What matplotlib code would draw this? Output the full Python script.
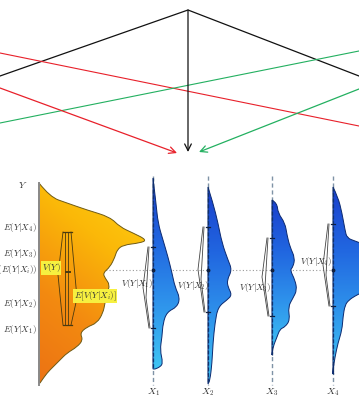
import numpy as np
import matplotlib
matplotlib.use("Agg")
import matplotlib.pyplot as plt
from matplotlib.path import Path
from matplotlib.patches import PathPatch
from matplotlib.colors import LinearSegmentedColormap

plt.rcParams['mathtext.fontset'] = 'cm'

# ---- marginal distribution of Y (drawn against the Y axis) ----
y_prof_y = [183, 197, 203, 210, 217, 227, 233, 240, 243, 245, 250, 257, 267, 273,
            278, 285, 293, 303, 313, 323, 327, 333, 340, 347, 353, 360, 367, 373, 383]
y_prof_w = [0, 11, 28, 48, 71, 81, 94, 108, 101, 84, 78, 76, 71, 64,
            66, 71, 68, 66, 64, 58, 48, 41, 44, 38, 28, 21, 14, 8, 1]

# ---- conditional distributions Y | X_i ----
x_pos = [153, 208, 272, 333]
x_labels = ['$X_1$', '$X_2$', '$X_3$', '$X_4$']
cond_y = [
    [178, 203, 223, 240, 257, 273, 287, 298, 307, 312, 323, 337, 350, 363, 367, 369],
    [187, 203, 223, 243, 260, 270, 280, 287, 295, 300, 307, 323, 343, 363, 380, 384],
    [200, 203, 213, 223, 235, 247, 258, 267, 270, 280, 290, 298, 307, 320, 327, 329, 337, 347, 355],
    [187, 197, 213, 230, 238, 241, 244, 265, 285, 292, 296, 300, 305, 317, 330, 343, 357, 370, 374],
]
cond_w = [
    [0, 3, 5, 10, 15, 19, 22, 27, 24, 14, 10, 9, 7, 10, 7, 2],
    [0, 5, 10, 14, 20, 24, 19, 20, 24, 19, 10, 7, 5, 4, 2, 0],
    [0, 5, 6, 13, 15, 18, 23, 21, 18, 23, 25, 21, 16, 18, 13, 8, 5, 1, 0],
    [0, 5, 9, 12, 14, 22, 30, 36, 36, 30, 22, 16, 12, 10, 9, 5, 2, 0, 0],
]

# conditional spreads V(Y|X_i) (top, bottom) and the overall spread V(Y)
cond_spread = [(247, 328), (227, 312), (238, 316), (224, 306)]
var_y = (232, 325)
mean_level = 270

left_labels = ['$E(Y|X_4)$', '$E(Y|X_3)$', '$E(E(Y|X_i))$', '$E(Y|X_2)$', '$E(Y|X_1)$']
left_label_y = [227, 253, 270, 303, 330]

W, H = 359, 399
fig = plt.figure(figsize=(W / 100, H / 100), dpi=100)
ax = fig.add_axes([0, 0, 1, 1])
ax.set_xlim(0, W)
ax.set_ylim(H, 0)
ax.axis('off')


def edge_path(x0, ys, ws):
    """Closed shape: smooth right edge built from profile points, straight edge on the axis."""
    pts = [(x0 + w, y) for y, w in zip(ys, ws)]
    verts = [(x0, ys[0]), pts[0]]
    codes = [Path.MOVETO, Path.LINETO]
    for i in range(1, len(pts) - 1):
        mid = ((pts[i][0] + pts[i + 1][0]) / 2, (pts[i][1] + pts[i + 1][1]) / 2)
        verts += [pts[i], mid]
        codes += [Path.CURVE3, Path.CURVE3]
    verts += [pts[-1], (x0, ys[-1]), (x0, ys[0])]
    codes += [Path.LINETO, Path.LINETO, Path.CLOSEPOLY]
    return Path(verts, codes)


def gradient_fill(path, cmap, extent, diag=0.0, edge='k', z=3):
    patch = PathPatch(path, fc='none', ec=edge, lw=0.7, zorder=z + 0.1)
    ax.add_patch(patch)
    yy, xx = np.mgrid[0:1:200j, 0:1:100j]
    grad = (1 - diag) * yy + diag * (1 - xx)
    im = ax.imshow(grad, cmap=cmap, extent=extent, origin='upper',
                   aspect='auto', zorder=z, interpolation='bilinear')
    clip = PathPatch(path, transform=ax.transData, fc='none', ec='none')
    ax.add_patch(clip)
    im.set_clip_path(clip)


orange_cmap = LinearSegmentedColormap.from_list('o', ['#ffd414', '#fbb808', '#f38a10', '#ec7214'])
blue_cmap = LinearSegmentedColormap.from_list('b', ['#1a3fcc', '#2166e0', '#2f95ec', '#40c6f4'])

# ---------------- top: arrows ----------------
apex = (188, 10)
ax.plot([0, apex[0], W], [76, apex[1], 76], color='#111111', lw=0.9, zorder=2)
ax.plot([0, W], [53, 126], color='#e8202a', lw=0.8, zorder=2)
ax.plot([0, W], [123, 51], color='#23b060', lw=0.8, zorder=2)
arrow_kw = dict(arrowstyle='->', lw=0.9, mutation_scale=12, shrinkA=0, shrinkB=0)
ax.annotate('', xy=(188, 152), xytext=apex, arrowprops=dict(color='#111111', **arrow_kw))
ax.annotate('', xy=(177, 153), xytext=(0, 88), arrowprops=dict(color='#e8202a', **arrow_kw))
ax.annotate('', xy=(199, 152), xytext=(W, 89), arrowprops=dict(color='#23b060', **arrow_kw))

# ---------------- bottom: distributions ----------------
y0_axis = 385
x0_axis = 39

# mean level
ax.plot([x0_axis, W], [mean_level, mean_level], color='#9a9a9a', lw=0.8,
        ls=(0, (1, 2)), zorder=1)

# dashed verticals at each X_i
for xp in x_pos:
    ax.plot([xp, xp], [176, y0_axis], color='#7f93a6', lw=1.0, ls=(0, (3, 2)), zorder=2)

# marginal of Y
gradient_fill(edge_path(x0_axis, y_prof_y, y_prof_w), orange_cmap,
              [x0_axis, x0_axis + 112, 385, 182], diag=0.3, edge='#6e5a14')

# conditionals
for xp, ys, ws in zip(x_pos, cond_y, cond_w):
    gradient_fill(edge_path(xp, ys, ws), blue_cmap,
                  [xp, xp + 45, ys[-1] + 2, ys[0] - 2], diag=0.0, edge='#0c2a70')
    ax.plot([xp, xp], [ys[0], ys[-1]], color='#10306a', lw=0.9, ls=(0, (3, 1.5)), zorder=4)

# axes
ax.plot([x0_axis, x0_axis], [183, y0_axis], color='#8a8a8a', lw=1.4, zorder=5)
ax.annotate('', xy=(W + 6, y0_axis), xytext=(x0_axis, y0_axis),
            arrowprops=dict(arrowstyle='-|>', color='#8a8a8a', lw=1.4,
                            mutation_scale=8, shrinkA=0, shrinkB=0), zorder=5)
ax.text(23, 185, '$Y$', fontsize=7, ha='center', va='center', color='#333333')
for xp, lab in zip(x_pos, x_labels):
    ax.text(xp, 392, lab, fontsize=7, ha='center', va='center', color='#333333')

# left-side labels
for lab, yl in zip(left_labels, left_label_y):
    ax.text(37, yl, lab, fontsize=6.5, ha='right', va='center', color='#333333')

# spread brackets (thin lenses) with end ticks and mean dot
def lens(xc, top, bot, bulge_l, bulge_r, ymid_l, ymid_r, z=6):
    ax.plot([xc - 1.5, xc - 1.5 - bulge_l, xc - 1.5], [top, ymid_l, bot],
            color='#3a3a3a', lw=0.6, zorder=z)
    ax.plot([xc + 1.5, xc + 1.5 + bulge_r, xc + 1.5], [top, ymid_r, bot],
            color='#3a3a3a', lw=0.6, zorder=z)


# V(Y) and E[V(Y|X_i)] inside the marginal
ytop, ybot = var_y
ax.plot([65, 65], [ytop, ybot], color='#4a3a10', lw=0.6, zorder=6)
ax.plot([67.5, 67.5], [ytop, ybot], color='#4a3a10', lw=0.6, zorder=6)
ax.plot([63, 72], [ytop, ytop], color='#4a3a10', lw=0.9, zorder=6)
ax.plot([63, 72], [ybot, ybot], color='#4a3a10', lw=0.9, zorder=6)
ax.plot([63, 58, 63], [ytop, 275, ybot], color='#4a3a10', lw=0.6, zorder=6)
ax.plot([71, 77, 71], [ytop, 298, ybot], color='#4a3a10', lw=0.6, zorder=6)
ax.plot([66, 70], [272, 272], color='#4a3a10', lw=1.4, zorder=6)
ax.text(51, 268, '$V(Y)$', fontsize=6.5, ha='center', va='center', color='#333333', zorder=7,
        bbox=dict(boxstyle='square,pad=0.05', fc='#f6f040', ec='none'))
ax.text(95, 296, r'$E[V(Y|X_i)]$', fontsize=6.5, ha='center', va='center', color='#333333', zorder=7,
        bbox=dict(boxstyle='square,pad=0.05', fc='#f6f040', ec='none'))

# V(Y|X_i) brackets next to each conditional
lab_pos = [(137, 284), (193, 285), (255, 287), (316, 262)]
for i, (xp, (top, bot)) in enumerate(zip(x_pos, cond_spread)):
    ax.plot([xp - 5, xp - 10, xp - 4], [top, (top + bot) / 2, bot], color='#444444', lw=0.6, zorder=6)
    ax.plot([xp - 4, xp - 7, xp - 3], [top, (top + bot) / 2 + 10, bot], color='#444444', lw=0.6, zorder=6)
    ax.plot([xp - 2, xp + 2], [top, top], color='#102040', lw=0.9, zorder=6)
    ax.plot([xp - 2, xp + 2], [bot, bot], color='#102040', lw=0.9, zorder=6)
    ax.plot([xp], [mean_level], marker='o', ms=1.8, color='#102040', zorder=6)
    ax.text(lab_pos[i][0], lab_pos[i][1], '$V(Y|X_%d)$' % (i + 1), fontsize=6.5,
            ha='center', va='center', color='#333333', zorder=7)

fig.savefig('out.png', dpi=100)
